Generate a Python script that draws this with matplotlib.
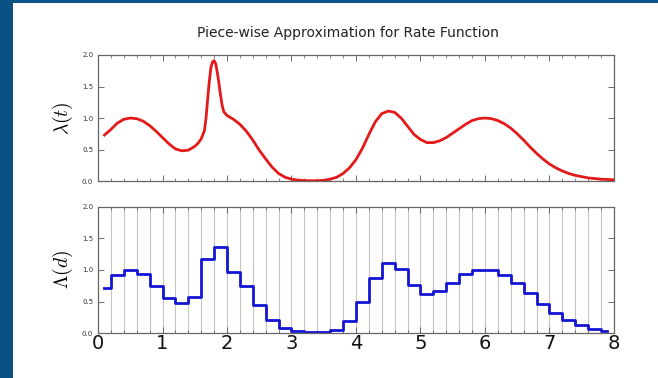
import numpy as np
import matplotlib
matplotlib.use("Agg")
import matplotlib.pyplot as plt
from matplotlib.patches import Rectangle
from matplotlib.ticker import MultipleLocator

plt.rcParams['mathtext.fontset'] = 'cm'

# rate function lambda(t), read at irregular t (denser around the spike)
t = [0.1, 0.2, 0.3, 0.4, 0.5, 0.6, 0.7, 0.8, 0.9, 1.0,
     1.1, 1.2, 1.3, 1.4, 1.5, 1.55, 1.6, 1.65, 1.675, 1.7,
     1.725, 1.75, 1.775, 1.8, 1.825, 1.85, 1.875, 1.9, 1.925, 1.95,
     2.0, 2.05, 2.1, 2.2, 2.3, 2.4,
     2.5, 2.6, 2.7, 2.8, 2.9, 3.0, 3.1, 3.2, 3.3, 3.4,
     3.5, 3.6, 3.7, 3.8, 3.9, 4.0, 4.1, 4.2, 4.3, 4.4,
     4.5, 4.6, 4.7, 4.8, 4.9, 5.0, 5.1, 5.2, 5.3, 5.4,
     5.5, 5.6, 5.7, 5.8, 5.9, 6.0, 6.1, 6.2, 6.3, 6.4,
     6.5, 6.6, 6.7, 6.8, 6.9, 7.0, 7.1, 7.2, 7.3, 7.4,
     7.5, 7.6, 7.7, 7.8, 7.9, 8.0]
lam = [0.73, 0.82, 0.92, 0.98, 1.00, 0.99, 0.95, 0.88, 0.79, 0.69,
       0.59, 0.51, 0.48, 0.49, 0.55, 0.60, 0.67, 0.80, 1.00, 1.30,
       1.58, 1.80, 1.89, 1.91, 1.86, 1.72, 1.55, 1.36, 1.20, 1.10,
       1.04, 1.01, 0.98, 0.90, 0.79, 0.65,
       0.49, 0.35, 0.22, 0.12, 0.06, 0.03, 0.015, 0.008, 0.005, 0.006,
       0.012, 0.03, 0.06, 0.12, 0.21, 0.34, 0.52, 0.74, 0.94, 1.07,
       1.11, 1.09, 1.00, 0.87, 0.74, 0.66, 0.61, 0.61, 0.64, 0.69,
       0.76, 0.83, 0.90, 0.96, 0.99, 1.00, 0.99, 0.96, 0.91, 0.84,
       0.75, 0.65, 0.54, 0.44, 0.35, 0.27, 0.21, 0.16, 0.12, 0.09,
       0.07, 0.05, 0.04, 0.03, 0.025, 0.02]

# piece-wise constant approximation, one value per bin centre
d = [0.1, 0.3, 0.5, 0.7, 0.9, 1.1, 1.3, 1.5, 1.7, 1.9,
     2.1, 2.3, 2.5, 2.7, 2.9, 3.1, 3.3, 3.5, 3.7, 3.9,
     4.1, 4.3, 4.5, 4.7, 4.9, 5.1, 5.3, 5.5, 5.7, 5.9,
     6.1, 6.3, 6.5, 6.7, 6.9, 7.1, 7.3, 7.5, 7.7, 7.9]
Lam = [0.72, 0.92, 1.00, 0.93, 0.74, 0.56, 0.48, 0.57, 1.17, 1.36,
       0.97, 0.74, 0.44, 0.20, 0.08, 0.03, 0.01, 0.01, 0.05, 0.19,
       0.49, 0.88, 1.11, 1.02, 0.76, 0.62, 0.67, 0.80, 0.93, 1.00,
       1.00, 0.92, 0.79, 0.63, 0.46, 0.31, 0.20, 0.12, 0.06, 0.03]

fig = plt.figure(figsize=(6.58, 3.78), dpi=100, facecolor='#0a5283')
fig.patches.append(Rectangle((13 / 658, 0), 1, 1 - 3 / 378, transform=fig.transFigure,
                             facecolor='white', edgecolor='none', zorder=-10))

ax1 = fig.add_axes([0.149, 0.521, 0.784, 0.3335])
ax2 = fig.add_axes([0.149, 0.119, 0.784, 0.3335])

ax1.plot(t, lam, color='#e41a1a', lw=2)

edges = (np.array(d[:-1]) + np.array(d[1:])) / 2
for e in edges:
    ax2.axvline(e, color='#c4c4c4', lw=0.8, zorder=1)
ax2.step(d, Lam, where='mid', color='#1414d4', lw=2, zorder=2)

for ax in (ax1, ax2):
    ax.set_xlim(0, 8)
    ax.set_ylim(0, 2)
    ax.set_yticks([0, 0.5, 1.0, 1.5, 2.0])
    ax.xaxis.set_major_locator(MultipleLocator(1))
    ax.xaxis.set_minor_locator(MultipleLocator(0.2))
    ax.tick_params(which='both', direction='in', top=True, right=True,
                   colors='#555555', labelcolor='#333333')
    ax.tick_params(which='major', length=4, width=0.6)
    ax.tick_params(which='minor', length=2, width=0.5)
    ax.tick_params(axis='y', labelsize=5)
    for s in ax.spines.values():
        s.set_color('#666666')
        s.set_linewidth(0.9)

ax1.tick_params(axis='x', labelbottom=False)
ax2.tick_params(axis='x', labelsize=14, labelcolor='#111111', pad=1)

ax1.set_ylabel(r'$\lambda(t)$', fontsize=14, labelpad=5)
ax2.set_ylabel(r'$\Lambda(d)$', fontsize=14, labelpad=5)

fig.text(0.529, 0.913, 'Piece-wise Approximation for Rate Function',
         ha='center', va='center', fontsize=10, color='#222222')

fig.savefig('out.png', dpi=100, facecolor=fig.get_facecolor())
